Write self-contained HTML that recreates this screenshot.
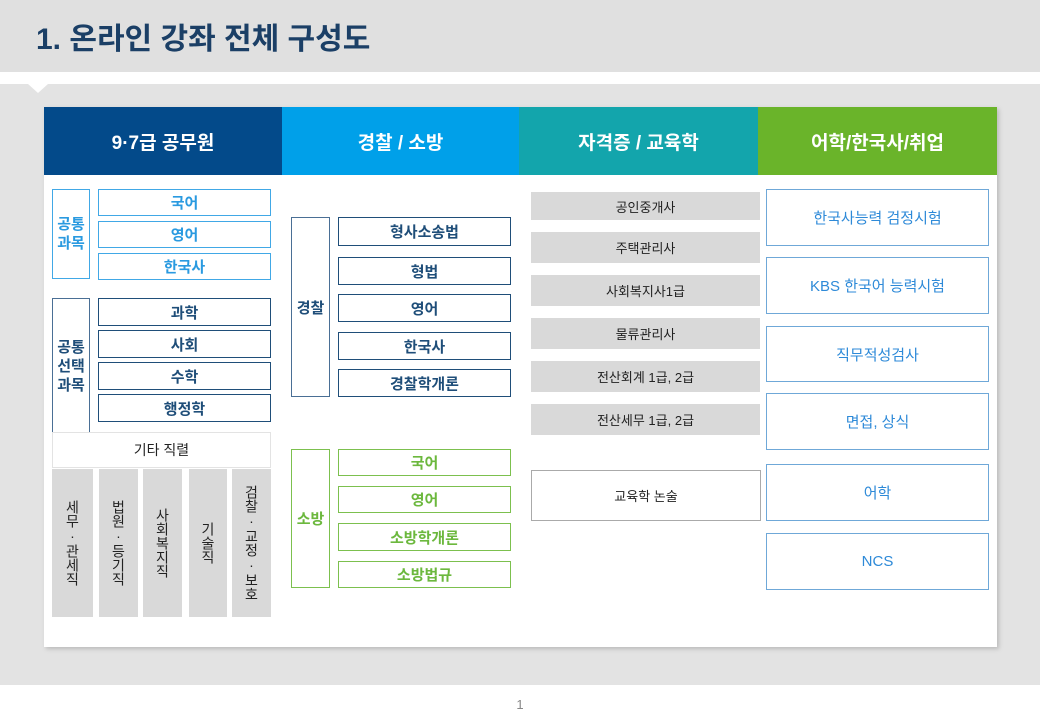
<!DOCTYPE html><html><head><meta charset="utf-8"><style>
body{margin:0;width:1040px;height:720px;position:relative;background:#fff;font-family:"Liberation Sans","Noto Sans CJK KR",sans-serif;overflow:hidden}
div{position:absolute;box-sizing:border-box;display:flex;align-items:center;justify-content:center;text-align:center}
.h{color:#fff;font-size:19px;font-weight:bold;top:107px;height:68px}
.b1{border:1.5px solid #1f4e79;color:#1f4e79;font-size:15px;font-weight:bold;background:#fff}
.bl{border:1.5px solid #41a8e6;color:#2a9ae0;font-size:15px;font-weight:bold;background:#fff}
.g{border:1.5px solid #7cc04e;color:#6cb83e;font-size:15px;font-weight:bold;background:#fff}
.gr{background:#d9d9d9;color:#222;font-size:13px}
.v{background:#d9d9d9;color:#222;font-size:14px;writing-mode:vertical-rl;text-orientation:upright;letter-spacing:0px}
.r{border:1.5px solid #6fa8d8;color:#2e8ad8;font-size:15px;background:#fff;left:766px;width:223px}
</style></head><body>
<div style="left:0;top:0;width:1040px;height:72px;background:#e0e0e0;justify-content:flex-start;padding-left:36px;font-size:30px;font-weight:bold;color:#1b3f66">1. 온라인 강좌 전체 구성도</div>
<div style="left:0;top:84px;width:1040px;height:601px;background:#e3e3e3"></div>
<div style="left:28px;top:84px;width:0;height:0;border-left:10px solid transparent;border-right:10px solid transparent;border-top:9px solid #fff"></div>
<div style="left:44px;top:107px;width:953px;height:540px;background:#fff;box-shadow:2px 2px 4px #bbb"></div>
<div class="h" style="left:44px;width:238px;background:#034a8a">9·7급 공무원</div>
<div class="h" style="left:282px;width:237px;background:#00a0e9">경찰 / 소방</div>
<div class="h" style="left:519px;width:239px;background:#13a5ac">자격증 / 교육학</div>
<div class="h" style="left:758px;width:239px;background:#6ab42a">어학/한국사/취업</div>

<div class="bl" style="left:52px;top:189px;width:38px;height:90px;line-height:19px">공통<br>과목</div>
<div class="bl" style="left:98px;top:189px;width:173px;height:27px">국어</div>
<div class="bl" style="left:98px;top:221px;width:173px;height:27px">영어</div>
<div class="bl" style="left:98px;top:253px;width:173px;height:27px">한국사</div>
<div class="b1" style="left:52px;top:298px;width:38px;height:136px;line-height:19px;border-bottom:none;border-color:#4a6f95">공통<br>선택<br>과목</div>
<div class="b1" style="left:98px;top:298px;width:173px;height:28px">과학</div>
<div class="b1" style="left:98px;top:330px;width:173px;height:28px">사회</div>
<div class="b1" style="left:98px;top:362px;width:173px;height:28px">수학</div>
<div class="b1" style="left:98px;top:394px;width:173px;height:28px">행정학</div>
<div style="left:52px;top:432px;width:219px;height:36px;border:1px solid #e3e3e3;background:#fff;font-size:14px;color:#222">기타 직렬</div>
<div class="v" style="left:52px;top:469px;width:41px;height:148px">세무·관세직</div>
<div class="v" style="left:99px;top:469px;width:39px;height:148px">법원·등기직</div>
<div class="v" style="left:143px;top:469px;width:39px;height:148px">사회복지직</div>
<div class="v" style="left:189px;top:469px;width:38px;height:148px">기술직</div>
<div class="v" style="left:232px;top:469px;width:39px;height:148px">검찰·교정·보호</div>

<div class="b1" style="left:291px;top:217px;width:39px;height:180px;border-color:#4a6f95">경찰</div>
<div class="b1" style="left:338px;top:217px;width:173px;height:29px">형사소송법</div>
<div class="b1" style="left:338px;top:257px;width:173px;height:28px">형법</div>
<div class="b1" style="left:338px;top:294px;width:173px;height:28px">영어</div>
<div class="b1" style="left:338px;top:332px;width:173px;height:28px">한국사</div>
<div class="b1" style="left:338px;top:369px;width:173px;height:28px">경찰학개론</div>
<div class="g" style="left:291px;top:449px;width:39px;height:139px">소방</div>
<div class="g" style="left:338px;top:449px;width:173px;height:27px">국어</div>
<div class="g" style="left:338px;top:486px;width:173px;height:27px">영어</div>
<div class="g" style="left:338px;top:523px;width:173px;height:28px">소방학개론</div>
<div class="g" style="left:338px;top:561px;width:173px;height:27px">소방법규</div>

<div class="gr" style="left:531px;top:192px;width:229px;height:28px">공인중개사</div>
<div class="gr" style="left:531px;top:232px;width:229px;height:31px">주택관리사</div>
<div class="gr" style="left:531px;top:275px;width:229px;height:31px">사회복지사1급</div>
<div class="gr" style="left:531px;top:318px;width:229px;height:31px">물류관리사</div>
<div class="gr" style="left:531px;top:361px;width:229px;height:31px">전산회계 1급, 2급</div>
<div class="gr" style="left:531px;top:404px;width:229px;height:31px">전산세무 1급, 2급</div>
<div style="left:531px;top:470px;width:230px;height:51px;border:1.5px solid #aaa;font-size:13px;color:#222;background:#fff">교육학 논술</div>

<div class="r" style="top:189px;height:57px">한국사능력 검정시험</div>
<div class="r" style="top:257px;height:57px">KBS 한국어 능력시험</div>
<div class="r" style="top:326px;height:56px">직무적성검사</div>
<div class="r" style="top:393px;height:57px">면접, 상식</div>
<div class="r" style="top:464px;height:57px">어학</div>
<div class="r" style="top:533px;height:57px">NCS</div>
<div style="left:500px;top:694px;width:40px;height:20px;font-size:13px;color:#888">1</div>
</body></html>
